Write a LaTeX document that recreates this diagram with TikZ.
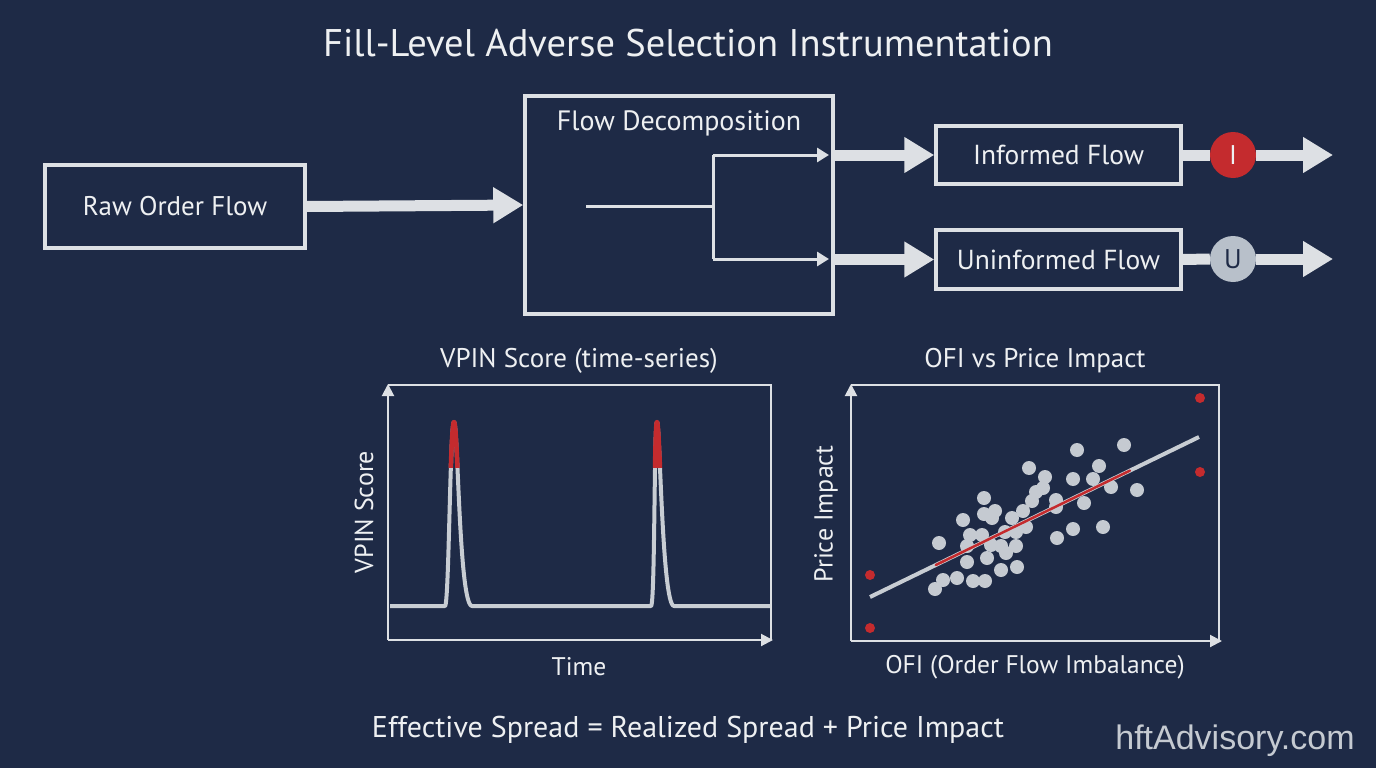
\documentclass[tikz,border=0pt]{standalone}
\usepackage{fontspec}
\setmainfont{PT Sans}
\newfontfamily\wmfont{Liberation Sans}
\usetikzlibrary{arrows.meta,calc}
\definecolor{bg}{RGB}{30,42,70}
\definecolor{ln}{RGB}{221,224,228}
\definecolor{txt}{RGB}{238,240,242}
\definecolor{rd}{RGB}{196,43,46}
\definecolor{dot}{RGB}{197,202,209}
\definecolor{ucirc}{RGB}{184,192,202}
\definecolor{curve}{RGB}{200,205,211}
\newcommand{\fsz}[1]{\fontsize{#1}{#1}\selectfont}
\tikzset{
  box/.style={draw=ln, line width=3.5pt, text=txt, inner sep=0pt},
  bigarrow/.style={draw=ln, line width=11pt, -{Triangle[length=30pt,width=34pt]}},
  thinarrow/.style={draw=ln, line width=3pt, -{Triangle[length=12pt,width=14pt]}},
  axisarrow/.style={draw=ln, line width=2pt, -{Triangle[length=12pt,width=12pt]}},
  lbl/.style={text=txt, inner sep=0pt},
  gdot/.style={circle, fill=dot, minimum size=14pt, inner sep=0pt},
  rdot/.style={circle, fill=rd, minimum size=10pt, inner sep=0pt},
}
\begin{document}
\begin{tikzpicture}[x=1pt,y=-1pt]
\fill[bg] (0,0) rectangle (1376,768);
\useasboundingbox (0,0) rectangle (1376,768);

% title
\node[lbl] (title) at (688,43) {\fsz{38.5}Fill-Level Adverse Selection Instrumentation};

% boxes
\node[box, minimum width=260pt, minimum height=83pt] (raw) at (175,206.5) {\fsz{27}Raw Order Flow};
\node[box, minimum width=308pt, minimum height=218pt] (fd) at (679,205) {};
\node[lbl] (fdt) at (679,123) {\fsz{28}Flow Decomposition};
\node[box, minimum width=245pt, minimum height=58pt] (inf) at (1058.5,155) {\fsz{27.5}Informed Flow};
\node[box, minimum width=245pt, minimum height=59pt] (uninf) at (1058.5,259.5) {\fsz{27.5}Uninformed Flow};

% big arrows
\draw[bigarrow] (raw.east) -- (fd.west);
\draw[bigarrow] (fd.east |- inf.west) -- (inf.west);
\draw[bigarrow] (fd.east |- uninf.west) -- (uninf.west);

% inner split
\coordinate (s0) at (586,206);
\coordinate (s1) at (713,206);
\coordinate (st) at (713,155);
\coordinate (sb) at (713,259);
\coordinate (et) at (829,155);
\coordinate (eb) at (829,259);
\draw[ln, line width=3pt] (s0) -- (s1);
\draw[ln, line width=3pt] (st) -- (sb);
\draw[thinarrow] (st) -- (et);
\draw[thinarrow] (sb) -- (eb);

% circles and out arrows
\node[circle, fill=rd, minimum size=46pt, inner sep=0pt, text=txt] (ci) at (1233,155) {\fsz{27}I};
\node[circle, fill=ucirc, minimum size=46pt, inner sep=0pt, text=bg] (cu) at (1233,259) {\fsz{27}U};
\coordinate (oi) at (1333,155);
\coordinate (ou) at (1333,259);
\draw[ln, line width=11pt] (inf.east) -- (ci.west);
\draw[ln, line width=11pt] (uninf.east) -- (cu.west);
\draw[bigarrow] (ci.east) -- (oi);
\draw[bigarrow] (cu.east) -- (ou);

% ===== VPIN chart =====
\node[lbl] (vt) at (579,361) {\fsz{27}VPIN Score (time-series)};
\coordinate (vo) at (388,640);
\coordinate (vy) at (388,384);
\coordinate (vx) at (773,640);
\draw[ln, line width=2pt] (388,385) -- (771,385) -- (771,640);
\draw[axisarrow] (vo) -- (vy);
\draw[axisarrow] (vo) -- (vx);
\node[lbl, rotate=90] (vyl) at (364,512) {\fsz{26}VPIN Score};
\node[lbl] (vxl) at (579,667) {\fsz{25.5}Time};
\def\vpin{(390,606) -- (445,606) .. controls (449,606) and (450,422) .. (454,422) .. controls (458,422) and (459,606) .. (472,606) -- (651,606) .. controls (655,606) and (654,422) .. (657,422) .. controls (660,422) and (662,606) .. (674,606) -- (770,606)}
\draw[curve, line width=4pt, line join=round] \vpin;
\begin{scope}
\clip (380,400) rectangle (780,467);
\draw[rd, line width=4.5pt, line join=round] \vpin;
\end{scope}

% ===== OFI scatter =====
\node[lbl] (st2) at (1035,361) {\fsz{27}OFI vs Price Impact};
\coordinate (so) at (851,641);
\coordinate (sy) at (851,384);
\coordinate (sx) at (1222,641);
\draw[ln, line width=2pt] (851,385) -- (1219,385) -- (1219,641);
\draw[axisarrow] (so) -- (sy);
\draw[axisarrow] (so) -- (sx);
\node[lbl, rotate=90] (syl) at (826,514) {\fsz{26}Price Impact};
\node[lbl] (sxl) at (1035,667) {\fsz{25.5}OFI (Order Flow Imbalance)};

\foreach \x/\y in {1029/468,1077/450,1124/445,1099/466,1073/479,1093/479,1045/477,1043/488,1036/492,1032/501,1056/500,1056/507,1084/503,1111/487,1137/490,1103/527,1073/529,1057/538,984/498,984/514,995/511,992/518,1012/518,1023/511,963/520,970/535,982/535,1005/532,1016/532,1026/527,939/543,967/546,991/545,1001/546,1016/546,1006/553,987/558,967/562,1017/567,1001/570,957/578,943/580,935/589,973/581,985/581}
  \node[gdot] at (\x,\y) {};

\coordinate (r0) at (870,597);
\coordinate (r1) at (1199,437);
\draw[curve, line width=4pt] (r0) -- (r1);
\draw[rd, line width=2.5pt, line cap=round] ($(r0)!0.2!(r1)$) -- ($(r0)!0.79!(r1)$);

\node[rdot] at (870,575) {};
\node[rdot] at (870,628) {};
\node[rdot] at (1200,398) {};
\node[rdot] at (1200,472) {};

% equation
\node[lbl] (eq) at (688,730) {\fsz{30}Effective Spread = Realized Spread + Price Impact};
% watermark
\node[inner sep=0pt, text=dot] (wm) at (1235,741) {\wmfont\fsz{34}hftAdvisory.com};
\end{tikzpicture}
\end{document}
